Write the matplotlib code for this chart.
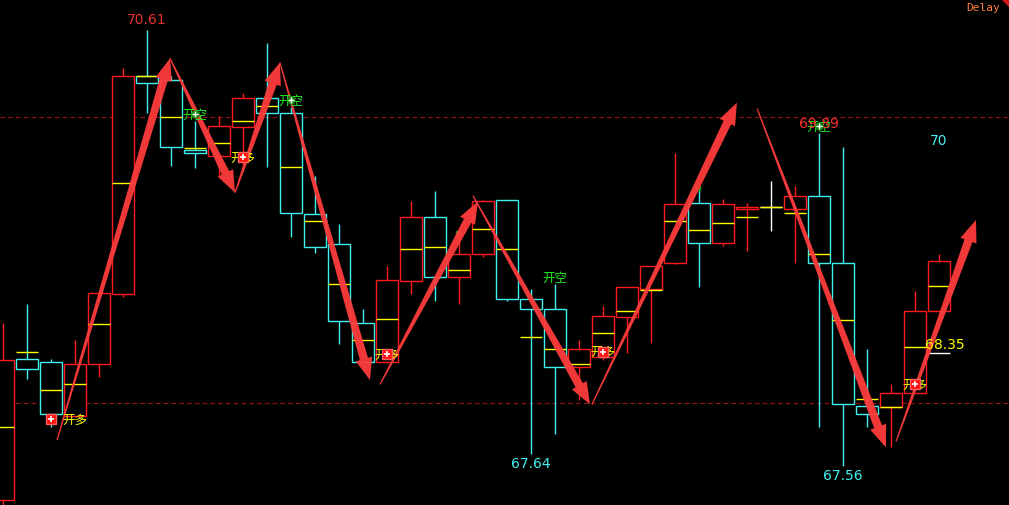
import matplotlib
matplotlib.use('Agg')
import matplotlib.pyplot as plt
from matplotlib.patches import Rectangle, Polygon
import numpy as np

# ---------------- data ----------------
opens  = [67.32, 68.31, 68.29, 67.91, 68.27, 68.76, 70.29, 70.26, 69.77, 69.73,
          69.93, 70.13, 70.03, 69.32, 69.11, 68.56, 68.29, 68.85, 69.30, 68.88,
          69.04, 69.42, 68.73, 68.66, 68.25, 68.32, 68.60, 68.80, 68.98, 69.40,
          69.12, 69.36, 69.37, 69.36, 69.45, 68.98, 67.98, 67.97, 68.07, 68.64]
closes = [68.30, 68.24, 67.92, 68.27, 68.77, 70.29, 70.24, 69.79, 69.75, 69.94,
          70.13, 70.03, 69.33, 69.09, 68.57, 68.29, 68.86, 69.30, 68.88, 69.04,
          69.41, 68.73, 68.66, 68.25, 68.38, 68.61, 68.81, 68.96, 69.39, 69.12,
          69.39, 69.37, 69.37, 69.45, 68.98, 67.99, 67.92, 68.07, 68.64, 68.99]
highs  = [68.56, 68.69, 68.31, 68.44, 68.77, 70.34, 70.61, 70.29, 69.97, 70.01,
          70.17, 70.52, 70.07, 69.59, 69.25, 68.66, 68.96, 69.41, 69.48, 69.19,
          69.42, 69.42, 68.80, 68.83, 68.44, 68.68, 68.81, 68.96, 69.75, 69.50,
          69.43, 69.40, 69.55, 69.52, 69.89, 69.79, 68.38, 68.13, 68.78, 69.04]
lows   = [67.24, 68.17, 67.83, 67.90, 68.18, 68.74, 70.03, 69.66, 69.64, 69.58,
          69.66, 69.65, 69.16, 69.05, 68.41, 68.28, 68.28, 68.76, 68.71, 68.69,
          69.02, 68.71, 67.64, 67.78, 68.02, 68.30, 68.35, 68.42, 68.97, 68.81,
          69.10, 69.06, 69.20, 68.98, 67.83, 67.56, 67.83, 67.69, 68.07, 68.64]
avgs   = [67.83, 68.36, 68.09, 68.13, 68.55, 69.54, 70.29, 70.00, 69.78, 69.82,
          69.97, 70.08, 69.65, 69.27, 68.83, 68.44, 68.59, 69.08, 69.09, 68.93,
          69.22, 69.08, 68.46, 68.38, 68.27, 68.49, 68.64, 68.79, 69.27, 69.21,
          69.26, 69.30, 69.37, 69.33, 69.04, 68.58, 68.03, 67.97, 68.39, 68.82]

long_idx = [2, 10, 16, 25, 38]          # 开多 signals
long_text_shift = [1, 0, 0, 0, 0]
short_idx = [8, 12, 23, 34]             # 开空 signals
short_dot = [True, True, False, True]
small_green_idx = [19, 29]

# swing arrows: (tail index, tail price) -> (head index, head price)
arrow_tails = [(2.25, 67.74), (6.96, 70.41), (9.67, 69.47), (11.54, 70.38),
               (15.71, 68.13), (19.58, 69.45), (24.54, 67.99), (31.42, 70.06),
               (37.21, 67.73)]
arrow_heads = [(6.96, 70.41), (9.67, 69.47), (11.54, 70.38), (15.29, 68.16),
               (19.79, 69.41), (24.46, 67.99), (30.58, 70.10), (36.79, 67.69),
               (40.54, 69.28)]

ref_levels = [70.0, 68.0]
last_price = 68.35
max_label = "70.61"
min_labels = [(22, "67.64"), (35, "67.56")]
local_high_label = (34, "69.89")

# ---------------- figure ----------------
W, H = 1009, 505
fig = plt.figure(figsize=(W / 100, H / 100), dpi=100, facecolor='black')
ax = fig.add_axes([0, 0, 1, 1])
ax.set_facecolor('black')
ax.set_xlim(-3 / 24, (W - 3) / 24)
ax.set_ylim(70 - 388 / 143, 70 + 117 / 143)
ax.axis('off')

RED = '#ff1a1a'
CYAN = '#40f0f0'
YEL = '#ffff00'
GREEN = '#22ee22'
NUMFONT = ['Liberation Sans Narrow', 'DejaVu Sans']
CJK = ['Noto Sans CJK SC', 'DejaVu Sans']

for lvl in ref_levels:
    ax.axhline(lvl, color='#9a1010', lw=0.8, ls=(0, (4, 3)), zorder=1)

hw = 0.44
for i, (o, c, h, l, a) in enumerate(zip(opens, closes, highs, lows, avgs)):
    if c > o:
        col = RED
    elif c < o:
        col = CYAN
    else:
        col = 'white'
    ax.vlines(i, l, h, color=col, lw=1.0, zorder=2)
    if col == 'white':
        ax.hlines(o, i - hw, i + hw, color='white', lw=1.0, zorder=3)
    else:
        ax.add_patch(Rectangle((i - hw, min(o, c)), 2 * hw, abs(c - o),
                               facecolor='black', edgecolor=col, lw=1.0, zorder=3))
    ax.hlines(a, i - hw, i + hw, color=YEL, lw=1.0, zorder=4)

# current price line
n = len(closes) - 1
ax.hlines(last_price, n - hw, n + hw, color='white', lw=1.0, zorder=4)

# arrows drawn as tapered polygons
tr = ax.transData
inv = tr.inverted()
for t, hd in zip(arrow_tails, arrow_heads):
    p0 = tr.transform(t)
    p1 = tr.transform(hd)
    d = p1 - p0
    L = np.hypot(*d)
    u = d / L
    nrm = np.array([-u[1], u[0]])
    hl, hhw, nhw, thw = 22, 8.5, 4.2, 0.6
    base = p1 - u * hl
    pts = [p0 + nrm * thw, base + nrm * nhw, base + nrm * hhw, p1,
           base - nrm * hhw, base - nrm * nhw, p0 - nrm * thw]
    pts = inv.transform(np.array(pts))
    ax.add_patch(Polygon(pts, closed=True, facecolor='#ff3c3c',
                         edgecolor='none', alpha=0.95, zorder=6))

# long signals
for k, i in enumerate(long_idx):
    y = lows[i] + 0.06
    ax.plot(i, y, marker='s', ms=7, color='#ff1010', mec='#ff6060', zorder=8)
    ax.plot(i, y, marker='+', ms=5, color='white', mew=1.2, zorder=9)
    ax.text(i + long_text_shift[k], lows[i] + 0.05, '开多', color=YEL,
            fontsize=9, family=CJK, ha='center', va='center', zorder=7)

# short signals
for i, dot in zip(short_idx, short_dot):
    y = highs[i] + 0.04
    ax.text(i, y, '开空', color=GREEN, fontsize=9, family=CJK,
            ha='center', va='center', zorder=7)
    if dot:
        ax.plot(i, y + 0.01, marker='o', ms=5, color='#118811', zorder=8)
        ax.plot(i, y + 0.01, marker='+', ms=4, color='white', mew=1, zorder=9)

for i in small_green_idx:
    ax.plot(i - 0.05, highs[i], marker='s', ms=3.5, color='#119911', zorder=5)

# price labels
im = int(np.argmax(highs))
ax.annotate(max_label, (im, highs[im]), xytext=(0, 2), textcoords='offset points',
            color='#e83030', fontsize=10, family=NUMFONT, ha='center', va='bottom', zorder=10)
for i, s in min_labels:
    ax.annotate(s, (i, lows[i]), xytext=(0, -2), textcoords='offset points',
                color=CYAN, fontsize=10, family=NUMFONT, ha='center', va='top', zorder=10)
ih, s = local_high_label
ax.annotate(s, (ih, highs[ih]), xytext=(0, 1), textcoords='offset points',
            color='#ff3030', fontsize=10, family=NUMFONT, ha='center', va='bottom', zorder=7)
ax.annotate('70', (n, ref_levels[0]), xytext=(0, -17), textcoords='offset points',
            color=CYAN, fontsize=10, family=NUMFONT, ha='center', va='center', zorder=10)
ax.annotate(f'{last_price:.2f}', (n, last_price), xytext=(4, 1), textcoords='offset points',
            color=YEL, fontsize=10, family=NUMFONT, ha='center', va='bottom', zorder=10)

ax.text(1000 / W, 0.994, 'Delay', transform=ax.transAxes, color='#ff8040',
        fontsize=8, family='DejaVu Sans Mono', ha='right', va='top', zorder=10)
ax.add_patch(Polygon([(1 - 7 / W, 1), (1, 1), (1, 1 - 7 / H)], closed=True,
                     transform=ax.transAxes, facecolor='#dd1010', edgecolor='none', zorder=10))

fig.savefig('out.png', dpi=100, facecolor='black')
